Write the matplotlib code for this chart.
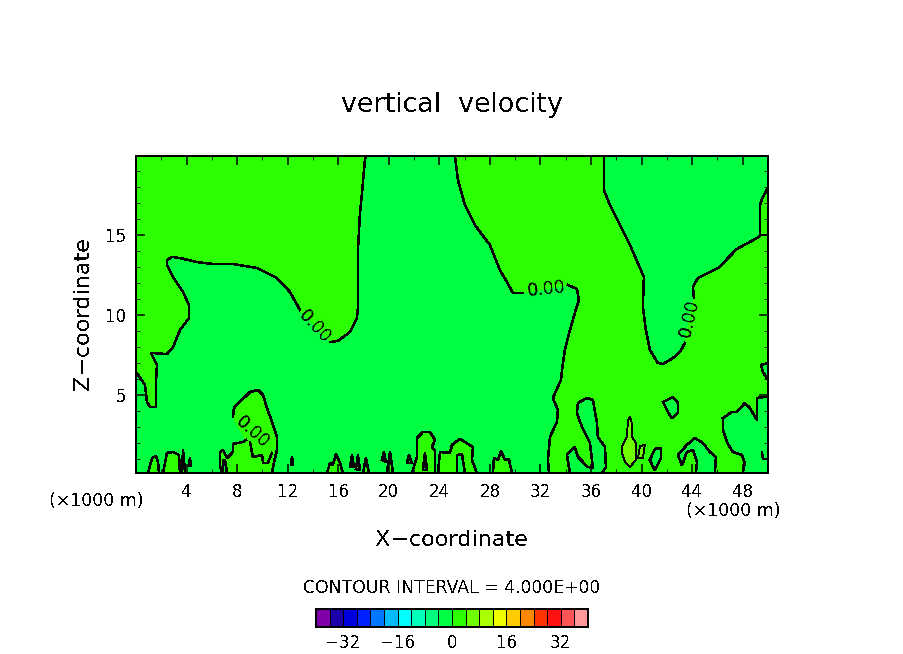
import matplotlib
matplotlib.use('Agg')
import matplotlib.pyplot as plt
import numpy as np

plt.rcParams['lines.antialiased'] = False
plt.rcParams['patch.antialiased'] = False
plt.rcParams['text.antialiased'] = False

# colours of the contour bands, -40..40 in steps of 4
levels = np.arange(-40, 41, 4)
band_colors = ['#7f00a8', '#1a00a8', '#0000dd', '#0022ff', '#0077ff', '#00bbff',
               '#00ffff', '#00ffbb', '#00ff80', '#00ff40', '#2bff00', '#70ff00',
               '#aaff00', '#eeff00', '#ffcc00', '#ff8800', '#ff3300', '#ff1111',
               '#ff5555', '#ff9999']
NEG = '#00ff40'
POS = '#2bff00'
LIME = '#70ff00'

x_ticks = np.arange(4, 49, 4)
z_ticks = [5, 10, 15]
bar_ticks = [-32, -16, 0, 16, 32]

# zero contour as (x, z) in 1000 m
upper_left_a = [(0, 6.44), (.71, 5.63), (.87, 4.56), (1.11, 4.25), (1.58, 4.25), (1.58, 5.81), (1.66, 6.88),
                (1.19, 7.63), (2.45, 7.56), (2.93, 8.0), (3.48, 9.06), (4.19, 9.81), (4.19, 10.63), (3.72, 11.44),
                (2.93, 12.38), (2.45, 13.13), (2.45, 13.44), (2.85, 13.63), (3.48, 13.56), (4.82, 13.31),
                (6.09, 13.19), (7.67, 13.19), (9.57, 12.94), (11.15, 12.31), (12.18, 11.44), (12.97, 10.31)]
upper_left_b = [(15.35, 8.31), (15.98, 8.38), (16.93, 8.94), (17.48, 9.81), (17.56, 10.5), (17.56, 14.06),
                (17.72, 16.38), (17.88, 17.63), (18.11, 19.69), (18.19, 19.94)]
center_a = [(25.23, 19.94), (25.47, 18.44), (26.02, 16.88), (26.81, 15.63), (28.0, 14.38), (28.79, 12.81),
            (29.35, 12.06), (29.82, 11.38), (30.61, 11.38)]
center_b = [(34.17, 11.88), (34.88, 11.63), (35.04, 10.94), (34.72, 10.13), (34.33, 9.06), (33.93, 7.81),
            (33.7, 6.56), (33.62, 5.94), (32.98, 4.81), (33.38, 4.06), (33.3, 3.31), (32.75, 2.38),
            (32.59, .94), (32.67, .125)]
right_a = [(37.02, 19.94), (37.02, 17.81), (37.49, 16.88), (38.28, 15.63), (39.08, 14.38), (39.87, 12.94),
           (40.18, 12.38), (40.1, 10.5), (40.34, 9.06), (40.66, 7.81), (41.29, 7.0), (41.69, 6.94),
           (42.48, 7.31), (43.03, 7.69), (43.43, 8.25)]
right_b = [(44.14, 11.06), (44.06, 11.75), (44.45, 12.31), (45.4, 12.69), (46.19, 13.0), (46.83, 13.56),
           (47.54, 14.13), (48.41, 14.5), (49.12, 14.81), (49.44, 15.0), (50, 15.0)]
corner = [(50, 15.0), (49.36, 15), (49.36, 15.94), (49.36, 16.88), (49.6, 17.38), (50, 17.94)]

# islands below zero inside the positive area
neg_islands = [
    [(50, 7), (49.44, 6.88), (49.6, 6.44), (50, 5.94)],
    [(34.33, .125), (34.09, 1.25), (34.72, 1.75), (34.96, 1.13), (35.75, .5), (36.15, .44), (35.91, 2.0),
     (35.28, 3.0), (34.88, 3.88), (34.96, 4.5), (35.67, 4.81), (36.15, 4.69), (36.47, 3.25), (36.54, 2.38),
     (37.1, 1.75), (37.18, .5), (36.86, .125)],
    [(41.69, 4.56), (42.48, 4.88), (42.87, 4.5), (42.87, 3.88), (42.4, 3.56), (42.08, 3.94), (41.69, 4.56)],
    [(40.66, .94), (41.05, 1.63), (41.53, 1.69), (41.53, 1.06), (41.05, .31), (40.82, .63), (40.66, .94)],
    [(43.19, .63), (42.87, 1.25), (43.58, 1.88), (44.22, 2.31), (44.85, 2.0), (45.4, 1.44), (45.88, 1.13),
     (45.8, .125), (44.3, .125), (44.38, .81), (44.06, 1.56), (43.58, 1.44), (43.27, .75), (43.19, .63)],
    [(46.43, 3.56), (47.14, 3.94), (47.54, 3.94), (48.17, 4.5), (48.57, 4.19), (49.12, 3.44), (49.12, 4.81),
     (49.75, 4.88), (50, 4.88), (50, .125), (47.99, .125), (48.17, .75), (47.93, 1.25), (47.22, 1.44),
     (46.75, 2.06), (46.43, 2.81), (46.43, 3.56)],
    [(25.39, .125), (25.39, 1.25), (25.79, 1.31), (26.02, .125)],
    [(22.7, .31), (22.86, 1.38), (23.02, .31), (22.7, .31)],
    [(6.88, .125), (6.88, .94), (7.04, .94), (7.2, .125)],
]
# small bumps above zero in the negative area
pos_bumps = [
    [(23.89, .125), (24.05, 1.44), (24.84, 1.38), (25.0, 1.88), (25.63, 2.25), (26.66, 1.75), (26.58, .94), (26.97, .125)],
    [(28.24, .125), (28.32, 1.06), (28.63, .94), (28.87, 1.5), (29.19, .94), (29.5, 1.0), (29.74, .125)],
    [(.95, .125), (1.27, 1.06), (1.58, 1.19), (1.74, .81), (1.82, .125)],
    [(2.14, .125), (2.45, 1.38), (2.93, 1.44), (3.4, 1.25), (3.48, .125)],
    [(3.64, .125), (3.72, 1.56), (3.88, .125)],
    [(4.19, .56), (4.27, 1.06), (4.35, .56), (4.19, .56)],
    [(12.26, .63), (12.34, 1.13), (12.42, .63), (12.26, .63)],
    [(15.11, .125), (15.35, .75), (15.58, .63), (15.82, 1.31), (16.14, .75), (16.37, .125)],
    [(16.93, .5), (17.09, 1.25), (17.24, .5), (16.93, .5)],
    [(17.4, .38), (17.56, 1.25), (17.72, .31), (17.4, .38)],
    [(17.96, .125), (18.19, 1.06), (18.43, .125)],
    [(19.46, .94), (19.62, 1.44), (19.78, .81), (19.46, .94)],
    [(19.85, .125), (20.09, 1.44), (20.33, .125)],
    [(21.44, .75), (21.59, 1.25), (21.83, .75), (21.44, .75)],
    [(21.83, .125), (22.23, 1.13), (22.23, 2.31), (22.7, 2.69), (23.26, 2.69), (23.65, 2.19), (23.41, 1.75),
     (23.65, 1.56), (23.65, .125)],
]
big_blob_a = [(6.8, .125), (6.64, .63), (6.64, 1.44), (6.88, 1.56), (7.2, 1.06), (7.67, 1.44), (7.67, 1.94),
              (8.46, 2.06), (8.7, 2.19)]
big_blob_b = [(7.67, 3.63), (7.75, 4.19), (8.38, 4.69), (9.02, 5.19), (9.65, 5.31), (10.05, 5.0), (10.36, 4.19),
              (10.76, 3.31), (11.15, 2.38), (11.15, 1.56), (10.92, .81), (10.76, .125)]
jag_line = [(9.02, 2.06), (9.25, 1.13), (9.97, 1.25), (10.05, .75), (10.44, .75), (10.76, 1.38)]
tiny_line = [(49.52, 1.44), (49.6, 1.0), (49.91, 1.0)]

# the 4 contour, thin line
lime_spots = [
    [(38.44, 1.75), (38.84, 2.38), (38.92, 3.44), (39.08, 3.63), (39.23, 3.25), (39.23, 2.38), (39.55, 2.0),
     (39.55, .94), (39.08, .5), (38.68, .81), (38.44, 1.38), (38.44, 1.75)],
    [(39.71, 1.06), (39.87, 1.81), (40.26, 1.88), (40.1, 1.06), (39.71, 1.06)],
]

# x, z, rotation of the contour labels
label_x = [14.16, 32.5, 43.75, 9.2]
label_z = [9.3, 11.6, 9.8, 2.7]
label_rot = [-47, 6, 77, -42]


def fill_poly(ax, pts, color):
    p = np.array(pts)
    ax.fill(p[:, 0], p[:, 1], color=color, lw=0, zorder=1)


def draw_line(ax, pts, lw=1.1):
    p = np.array(pts)
    ax.plot(p[:, 0], p[:, 1], color='k', lw=lw, zorder=1.5, solid_joinstyle='round')


fig = plt.figure(figsize=(9.04, 6.54), dpi=100)
W, H = 904.0, 654.0
ax = fig.add_axes([136 / W, 1 - 473 / H, 632 / W, 317 / H])
ax.set_facecolor(NEG)

# areas above zero
fill_poly(ax, [(0, 19.94)] + upper_left_a + upper_left_b, POS)
fill_poly(ax, center_a + center_b + [(50, .125)] + right_b[::-1] + right_a[::-1], POS)
fill_poly(ax, corner, POS)
fill_poly(ax, big_blob_a + big_blob_b, POS)
for b in pos_bumps:
    fill_poly(ax, b, POS)
for b in neg_islands:
    fill_poly(ax, b, NEG)
for b in lime_spots:
    fill_poly(ax, b, LIME)

# contour lines
for seg in [upper_left_a, upper_left_b, center_a, center_b, right_a, right_b, corner,
            big_blob_a, big_blob_b, jag_line, tiny_line] + neg_islands + pos_bumps:
    draw_line(ax, seg)
for b in lime_spots:
    draw_line(ax, b, lw=0.6)

for lx, lz, r in zip(label_x, label_z, label_rot):
    ax.text(lx, lz, '0.00', fontsize=12.5, rotation=r, rotation_mode='anchor', ha='center', va='center', zorder=1.6)

ax.set_xlim(0, 50)
ax.set_ylim(.125, 19.94)
ax.set_xticks(x_ticks)
ax.set_xticks(np.arange(2, 50, 2), minor=True)
ax.set_yticks(z_ticks)
ax.set_yticks(np.arange(1, 20), minor=True)
ax.tick_params(which='major', direction='in', top=True, right=True, length=6.5, width=1.1,
               labelsize=12, pad=7)
ax.tick_params(which='minor', direction='in', top=True, right=True, length=3, width=0.6)
for s in ax.spines.values():
    s.set_linewidth(1.1)

fig.text(452 / W, 1 - 105.5 / H, 'vertical  velocity', fontsize=19.4, ha='center', va='center')
fig.text(452 / W, 1 - 540.5 / H, 'X\u2212coordinate', fontsize=16, ha='center', va='center')
fig.text(83 / W, 1 - 314 / H, 'Z\u2212coordinate', fontsize=16, rotation=90, ha='center', va='center')
fig.text(96 / W, 1 - 501 / H, '(\u00d71000 m)', fontsize=12.5, ha='center', va='center')
fig.text(733 / W, 1 - 511 / H, '(\u00d71000 m)', fontsize=12.5, ha='center', va='center')
fig.text(452 / W, 1 - 588 / H, 'CONTOUR INTERVAL = 4.000E+00', fontsize=12.4, ha='center', va='center')

# colour key
cax = fig.add_axes([316 / W, 1 - 627 / H, 272 / W, 18 / H])
cax.pcolormesh(levels, [0, 1], np.arange(20).reshape(1, 20),
               cmap=matplotlib.colors.ListedColormap(band_colors),
               edgecolors='k', linewidth=0.7)
cax.set_yticks([])
cax.set_xticks(bar_ticks)
cax.set_xticklabels(['\u221232', '\u221216', '0', '16', '32'], fontsize=12)
cax.tick_params(length=0, pad=5)
for s in cax.spines.values():
    s.set_linewidth(1.1)

plt.savefig('out.png', dpi=100)
